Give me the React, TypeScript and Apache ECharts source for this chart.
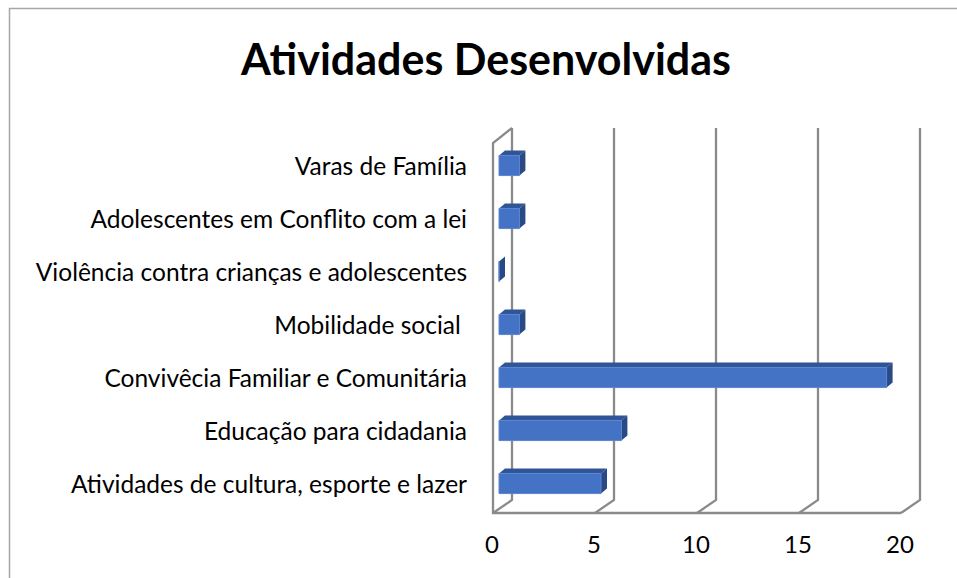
import React, { useEffect, useRef } from "react";
import * as echarts from "echarts";

const categories = [
  "Varas de Família",
  "Adolescentes em Conflito com a lei",
  "Violência contra crianças e adolescentes",
  "Mobilidade social ",
  "Convivêcia Familiar e Comunitária",
  "Educação para cidadania",
  "Atividades de cultura, esporte e lazer",
];
const values = [1, 1, 0, 1, 19, 6, 5];
const xTicks = [0, 5, 10, 15, 20];
const titleText = "Atividades Desenvolvidas";

const FONT = "Lato, 'Noto Sans', sans-serif";

export default function App() {
  const ref = useRef<HTMLDivElement>(null);
  useEffect(() => {
    if (!ref.current) return;
    const chart = echarts.init(ref.current, null, { renderer: "svg" });
    const xMax = xTicks[xTicks.length - 1];
    const BACK_DX = 13;
    const FRONT_DX = -6;
    const gridColor = "#8a8a8a";

    chart.setOption({
      animation: false,
      backgroundColor: "#ffffff",
      title: {
        text: titleText,
        left: 236,
        top: 32,
        textStyle: { fontSize: 43, fontWeight: "bold", color: "#000", fontFamily: FONT },
      },
      graphic: [
        {
          type: "rect",
          shape: { x: 9.5, y: 8.5, width: 1200, height: 1200 },
          style: { fill: "none", stroke: "#a6a6a6", lineWidth: 1.5 },
          silent: true,
        },
      ],
      grid: { left: 499, top: 139, width: 408, height: 371 },
      xAxis: {
        type: "value",
        min: 0,
        max: xMax,
        interval: 5,
        splitLine: { show: false },
        axisLine: { show: false },
        axisTick: { show: false },
        axisLabel: {
          margin: 21,
          fontSize: 24,
          color: "#000",
          fontFamily: FONT,
          padding: [0, 14, 0, 0],
        },
      },
      yAxis: {
        type: "category",
        data: categories,
        inverse: true,
        axisLine: { show: false },
        axisTick: { show: false },
        splitLine: { show: false },
        axisLabel: {
          margin: 32,
          fontSize: 24.5,
          color: "#000",
          fontFamily: FONT,
          padding: [11, 0, 0, 0],
        },
      },
      series: [
        {
          type: "custom",
          silent: true,
          z: 1,
          encode: { x: 0, y: 1 },
          data: xTicks.map((t) => [t, 0]),
          renderItem: (params: any, api: any) => {
            const v = api.value(0);
            const cs = params.coordSys;
            const x = api.coord([v, 0])[0];
            const top = cs.y;
            const bottom = cs.y + cs.height;
            const children: any[] = [
              {
                type: "polyline",
                shape: {
                  points: [
                    [x + BACK_DX, top - 11],
                    [x + BACK_DX, bottom - 10],
                    [x + FRONT_DX, bottom + 3],
                  ],
                },
                style: { stroke: gridColor, lineWidth: 2.3, fill: "none" },
              },
            ];
            if (v === 0) {
              const xEnd = api.coord([xMax, 0])[0];
              children.push({
                type: "polyline",
                shape: {
                  points: [
                    [x + BACK_DX, top - 11],
                    [x + FRONT_DX, top + 4],
                    [x + FRONT_DX, bottom + 3],
                    [xEnd + FRONT_DX, bottom + 3],
                  ],
                },
                style: { stroke: gridColor, lineWidth: 2.3, fill: "none" },
              });
            }
            return { type: "group", children };
          },
        },
        {
          type: "custom",
          z: 2,
          encode: { x: 0, y: 1 },
          data: values.map((v, i) => [v, i]),
          renderItem: (params: any, api: any) => {
            const v = api.value(0);
            const i = api.value(1);
            const p0 = api.coord([0, i]);
            const p1 = api.coord([v, i]);
            const band = api.size([0, 1])[1];
            const h = band * 0.38;
            const x0 = p0[0];
            const x1 = p1[0];
            const yt = p0[1] - h / 2;
            const yb = p0[1] + h / 2;
            const dx = 6;
            const dy = -5;
            return {
              type: "group",
              children: [
                {
                  type: "polygon",
                  shape: {
                    points: [
                      [x0, yt],
                      [x1, yt],
                      [x1 + dx, yt + dy],
                      [x0 + dx, yt + dy],
                    ],
                  },
                  style: { fill: "#2f5597" },
                },
                {
                  type: "polygon",
                  shape: {
                    points: [
                      [x1, yt],
                      [x1 + dx, yt + dy],
                      [x1 + dx, yb + dy],
                      [x1, yb],
                    ],
                  },
                  style: { fill: "#294a85" },
                },
                {
                  type: "rect",
                  shape: { x: x0, y: yt, width: x1 - x0, height: yb - yt },
                  style: { fill: "#4472c4", stroke: "#5b85d0", lineWidth: 1 },
                },
              ],
            };
          },
        },
      ],
    });
    return () => chart.dispose();
  }, []);
  return (
    <div
      ref={ref}
      style={{ position: "absolute", left: 0, top: 0, width: 957, height: 578 }}
    />
  );
}
